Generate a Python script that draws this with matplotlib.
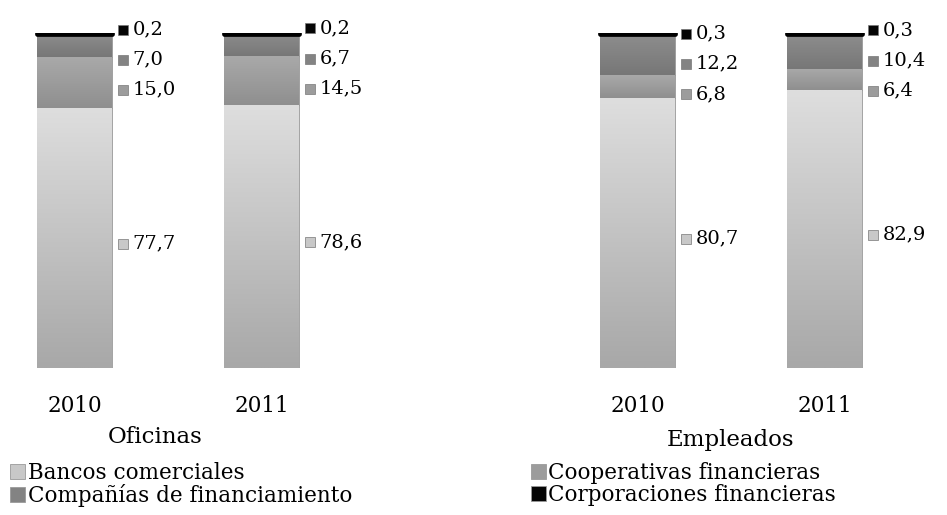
import matplotlib
matplotlib.use("Agg")
import matplotlib.pyplot as plt
import numpy as np
from matplotlib.colors import LinearSegmentedColormap

plt.rcParams['font.family'] = ['DejaVu Serif']

years = ["2010", "2011"]
series = ["Bancos comerciales", "Cooperativas financieras",
          "Compañías de financiamiento", "Corporaciones financieras"]
oficinas = {
    "Bancos comerciales": [77.7, 78.6],
    "Cooperativas financieras": [15.0, 14.5],
    "Compañías de financiamiento": [7.0, 6.7],
    "Corporaciones financieras": [0.2, 0.2],
}
empleados = {
    "Bancos comerciales": [80.7, 82.9],
    "Cooperativas financieras": [6.8, 6.4],
    "Compañías de financiamiento": [12.2, 10.4],
    "Corporaciones financieras": [0.3, 0.3],
}
panel_titles = ["Oficinas", "Empleados"]
colors = {
    "Bancos comerciales": "#c8c8c8",
    "Cooperativas financieras": "#9c9c9c",
    "Compañías de financiamiento": "#838383",
    "Corporaciones financieras": "#050505",
}
grad = {
    "Bancos comerciales": ("#dedede", "#a8a8a8"),
    "Cooperativas financieras": ("#a9a9a9", "#8f8f8f"),
    "Compañías de financiamiento": ("#8d8d8d", "#777777"),
    "Corporaciones financieras": ("#000000", "#111111"),
}

W, H = 947, 515
fig = plt.figure(figsize=(W / 100, H / 100), dpi=100)

bar_w = 0.4
unit_px = 187
xlim = (-0.4, 1.8)
ax_w_px = (xlim[1] - xlim[0]) * unit_px
ax_bottom = (H - 368) / H
ax_h = 335 / H
lefts = [0, 563]
title_x = [155, 731]
title_y = [437, 440]

handles = {}
for pi, (data, title) in enumerate(zip([oficinas, empleados], panel_titles)):
    ax = fig.add_axes([lefts[pi] / W, ax_bottom, ax_w_px / W, ax_h])
    x = np.arange(len(years))
    bottom = np.zeros(len(years))
    centers = {}
    for s in series:
        vals = np.array(data[s])
        is_top = s == "Corporaciones financieras"
        b = ax.bar(x, vals, bar_w, bottom=bottom, color=colors[s],
                   edgecolor="#000000" if is_top else "#9a9a9a",
                   linewidth=3.4 if is_top else 0.6, label=s,
                   zorder=3 if is_top else 2, joinstyle="round")
        handles[s] = b
        if not is_top:
            cmap = LinearSegmentedColormap.from_list("g", [grad[s][1], grad[s][0]])
            g = np.linspace(0, 1, 100).reshape(-1, 1)
            for rect in b.patches:
                x0, y0 = rect.get_x(), rect.get_y()
                im = ax.imshow(g, cmap=cmap, origin="lower", aspect="auto",
                               extent=(x0, x0 + rect.get_width(), y0, y0 + rect.get_height()),
                               zorder=2.5, interpolation="bilinear")
                im.set_clip_path(rect)
        centers[s] = bottom + vals / 2
        bottom = bottom + vals
    # labels with simple de-overlap
    gap = 9.0
    for i in range(len(years)):
        ys = [centers[s][i] - 1.7 for s in series]
        for _ in range(50):
            for k in range(len(ys) - 1):
                d = ys[k + 1] - ys[k]
                if d < gap:
                    shift = (gap - d) / 2
                    ys[k] -= shift
                    ys[k + 1] += shift
        for s, yv in zip(series, ys):
            val = data[s][i]
            ax.plot([x[i] + bar_w / 2 + 0.06], [yv], marker="s", ms=7,
                    color=colors[s], mec="#777777", mew=0.5, clip_on=False)
            ax.text(x[i] + bar_w / 2 + 0.11, yv, f"{val:.1f}".replace(".", ","),
                    fontsize=14, va="center", ha="left")
    ax.set_xlim(*xlim)
    ax.set_ylim(0, 100)
    ax.axis("off")
    for i, yr in enumerate(years):
        ax.text(x[i], -11.2, yr, fontsize=15.5, ha="center", va="center")
    fig.text(title_x[pi] / W, 1 - title_y[pi] / H,
             title, fontsize=16.5, ha="center", va="center")

order = ["Bancos comerciales", "Compañías de financiamiento",
         "Cooperativas financieras", "Corporaciones financieras"]
leg = fig.legend([handles[s] for s in order], order, ncol=2,
                 loc="upper left", bbox_to_anchor=(6 / W, 1 - 458 / H),
                 frameon=False, fontsize=15.5, handlelength=0.7,
                 handleheight=0.7, handletextpad=0.1, columnspacing=8.3,
                 labelspacing=0.0, borderaxespad=0, borderpad=0.2)
for h in leg.legend_handles:
    h.set_linewidth(0.6)
    h.set_edgecolor("#9a9a9a")

fig.savefig("out.png", dpi=100)
